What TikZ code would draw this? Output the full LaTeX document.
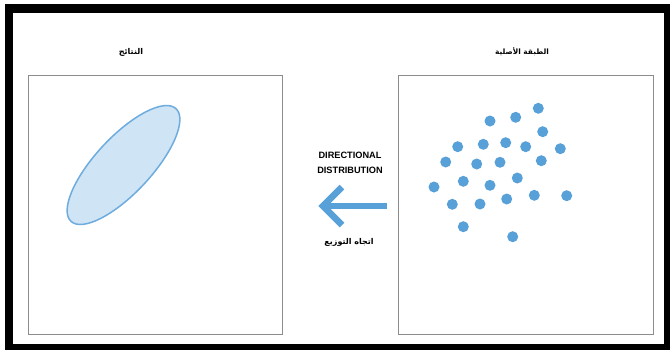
\documentclass[tikz,border=0pt]{standalone}
\usepackage{fontspec}
\setmainfont{Liberation Sans}
\newfontfamily\arabicfont[Script=Arabic]{DejaVu Sans}
\TeXXeTstate=1
\usetikzlibrary{calc}
\definecolor{dotblue}{RGB}{88,160,216}
\definecolor{elfill}{RGB}{207,229,246}
\definecolor{elline}{RGB}{110,172,222}
\definecolor{panelgray}{RGB}{140,140,140}
\tikzset{
  panel/.style={draw=panelgray, line width=1.3pt},
  dotnode/.style={circle, fill=dotblue, inner sep=0pt, minimum size=11pt},
  arrowline/.style={draw=dotblue, line width=6.5pt, line cap=butt, line join=miter},
  artitle/.style={font=\arabicfont\bfseries\fontsize{8}{10}\selectfont, inner sep=0pt},
  entext/.style={font=\bfseries\fontsize{9.2}{11}\selectfont, inner sep=0pt},
}
\begin{document}
\begin{tikzpicture}[x=1pt,y=-1pt]
\useasboundingbox (0,0) rectangle (670,349);
\clip (0,0) rectangle (670,349);
\fill[white] (0,0) rectangle (670,349);
% outer black frame
\draw[black, line width=8.5pt] (9,8.5) rectangle (668,348.3);
% panels
\node[panel, minimum width=254pt, minimum height=259pt, inner sep=0pt, anchor=north west] (left) at (28,75) {};
\node[panel, minimum width=255pt, minimum height=259pt, inner sep=0pt, anchor=north west] (right) at (398,75) {};
% titles
\node[artitle] (ltitle) at (131,52) {\beginR النتائج\endR};
\node[artitle, font=\arabicfont\bfseries\fontsize{7.4}{9}\selectfont] (rtitle) at (522,52) {\beginR الطبقة الأصلية\endR};
% ellipse
\draw[fill=elfill, draw=elline, line width=1.5pt] (123.5,165) ellipse[x radius=77pt, y radius=28pt, rotate=47];
\coordinate (ell) at (123.5,165);
% dots
\foreach \i/\x/\y in {1/538.3/108.3, 2/515.7/117.3, 3/490/121, 4/542.7/131.7,
  5/457.7/146.7, 6/483.3/144.3, 7/505.7/142.7, 8/525.7/146.7, 9/560.3/148.7,
  10/445.7/162, 11/476.7/164, 12/500/162.3, 13/541.3/160.7,
  14/434/187, 15/463.3/181.3, 16/490/185.3, 17/517.3/178,
  18/452.3/204.3, 19/480/204, 20/506.7/199, 21/534.3/195.3, 22/566.7/195.7,
  23/463.3/226.7, 24/512.7/236.7}
  \node[dotnode] (d\i) at (\x,\y) {};
% center labels
\node[entext] (t1) at (350,155) {DIRECTIONAL};
\node[entext] (t2) at (350,170) {DISTRIBUTION};
\node[artitle] (t3) at (349,242) {\beginR اتجاه التوزيع\endR};
% arrow
\coordinate (arrS) at (387,206);
\coordinate (arrE) at (323,206);
\draw[arrowline] (arrS) -- (arrE);
\draw[arrowline] ($(arrE)+(19,-19)$) -- (arrE) -- ($(arrE)+(19,19)$);
\end{tikzpicture}
\end{document}
